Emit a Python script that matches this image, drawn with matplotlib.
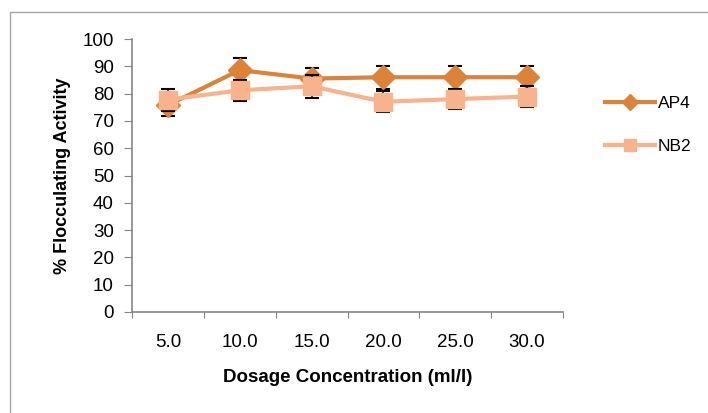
import matplotlib.pyplot as plt
from matplotlib.patches import Rectangle
from matplotlib.lines import Line2D

# data
dosage = ['5.0', '10.0', '15.0', '20.0', '25.0', '30.0']
ap4 = [75.8, 88.6, 85.5, 86.0, 86.0, 86.0]
ap4_err = [4.0, 4.3, 4.0, 4.2, 4.2, 4.2]
nb2 = [77.8, 81.2, 82.7, 77.0, 78.0, 78.9]
nb2_err = [4.0, 3.8, 4.2, 3.8, 3.8, 3.9]
yticks = list(range(0, 101, 10))

plt.rcParams['font.family'] = ['Liberation Sans', 'DejaVu Sans']

fig = plt.figure(figsize=(7.08, 4.13), dpi=100)
W, H = 708, 413
ax = fig.add_axes([132 / W, 1 - 312 / H, (563 - 132) / W, (312 - 39) / H])

# chart area border
fig.patches.append(Rectangle((10 / W, -0.05), 1.2, 1 - 12 / H + 0.05,
                             transform=fig.transFigure, fill=False,
                             edgecolor='#a6a6a6', linewidth=1))

x = list(range(len(dosage)))
ax.errorbar(x, ap4, yerr=ap4_err, color='#dd8239', marker='D', markersize=12,
            linewidth=3, ecolor='black', elinewidth=1.2, capsize=5, capthick=1.5,
            label='AP4', zorder=3)
ax.errorbar(x, nb2, yerr=nb2_err, color='#f8b28c', marker='s', markersize=13,
            linewidth=3, ecolor='black', elinewidth=1.2, capsize=5, capthick=1.5,
            label='NB2', zorder=4)

ax.set_xlim(-0.5, len(dosage) - 0.5)
ax.set_ylim(0, 100)
ax.set_yticks(yticks)
ax.set_xticks([i - 0.5 for i in range(len(dosage) + 1)])
ax.set_xticklabels([])
ax.set_xticks(x, minor=True)
ax.set_xticklabels(dosage, minor=True)
ax.tick_params(axis='x', which='minor', length=0, pad=16, labelsize=13.5)
ax.tick_params(axis='x', which='major', length=4, color='#868686', direction='out')
ax.tick_params(axis='y', length=6, color='#868686', labelsize=13.5, pad=7)

for s in ['top', 'right']:
    ax.spines[s].set_visible(False)
for s in ['left', 'bottom']:
    ax.spines[s].set_color('#868686')
    ax.spines[s].set_linewidth(1.2)

ax.set_xlabel('Dosage Concentration (ml/l)', fontsize=13.5, fontweight='bold', labelpad=13)
ax.set_ylabel('% Flocculating Activity', fontsize=13, fontweight='bold', labelpad=8)

# legend without error bars
handles = [Line2D([], [], color='#dd8239', marker='D', markersize=8, linewidth=3),
           Line2D([], [], color='#f8b28c', marker='s', markersize=9, linewidth=3)]
fig.legend(handles, ['AP4', 'NB2'], loc='upper left', bbox_to_anchor=(589 / W, 1 - 80 / H),
           frameon=False, fontsize=12.5, handlelength=2.9, handletextpad=0.15,
           labelspacing=1.6)

fig.savefig('out.png', dpi=100, facecolor='white')
